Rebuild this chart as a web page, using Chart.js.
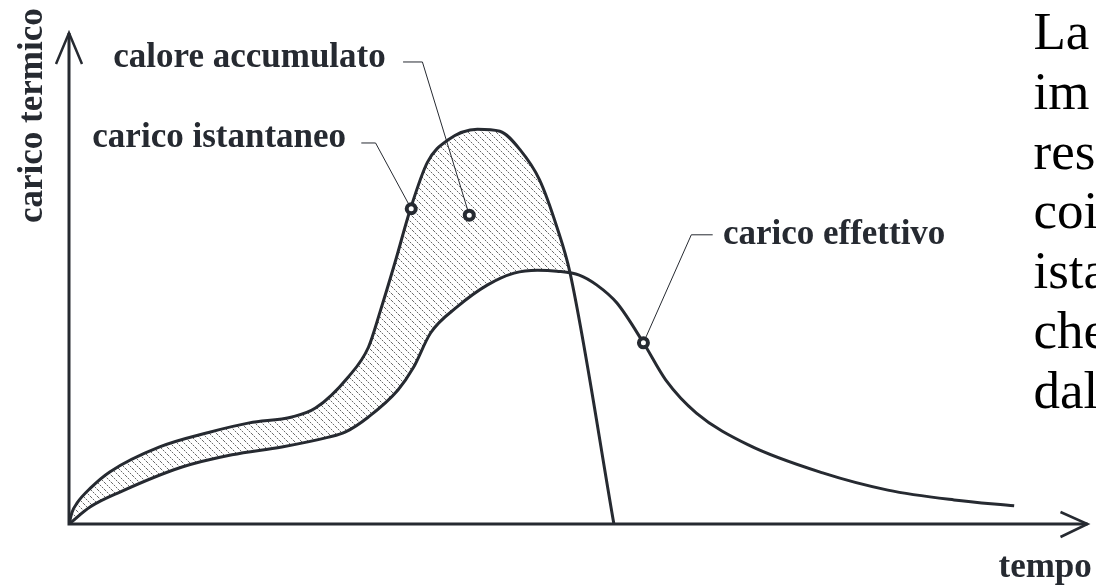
<!DOCTYPE html>
<html>
<head>
<meta charset="utf-8">
<script src="https://cdn.jsdelivr.net/npm/chart.js@4.4.1/dist/chart.umd.min.js"></script>
<style>
  body { margin: 0; background: #fff; }
</style>
</head>
<body>
<canvas id="caricoTermico" width="1096" height="585"></canvas>
<script>
// tempo and carico in % of the axis length (no ticks on the original)
var istTime = [0, 0.3, 0.8, 2.1, 4.0, 8.9, 13.8, 17.7, 21.9, 24.2, 27.4, 29.4, 30.6, 32.0, 33.5, 35.2, 37.2, 40.1, 42.3, 44.3, 46.2, 47.9, 49.2, 53.5];
var istLoad = [0, 2.4, 4.3, 7.3, 10.6, 15.7, 18.7, 20.6, 21.8, 23.6, 29.9, 36.0, 43.6, 53.2, 64.0, 73.7, 78.2, 80.4, 80.0, 76.2, 70.1, 60.5, 51.1, 0];

var effTime = [0, 2.1, 5.0, 11.1, 16.0, 20.9, 25.5, 27.1, 29.4, 32.3, 33.8, 35.5, 38.1, 41.1, 43.7, 46.0, 47.9, 50.1, 51.8, 53.8, 56.4, 58.6, 61.6, 66.7, 74.0, 80.4, 86.9, 92.8];
var effLoad = [0, 3.5, 6.5, 11.6, 14.1, 15.7, 17.7, 18.7, 21.8, 27.3, 31.8, 38.9, 44.2, 48.7, 51.1, 51.7, 51.5, 50.7, 48.7, 45.0, 36.9, 29.3, 22.6, 16.1, 10.4, 6.9, 4.9, 3.7];

var markerTime = [33.6, 39.3, 56.4];
var markerLoad = [64.2, 62.9, 36.9];

var labelText = ['calore accumulato', 'carico istantaneo', 'carico effettivo'];
var labelTime = [31.1, 27.2, 64.2];
var labelLoad = [93.1, 76.8, 57.0];
var labelAlign = ['right', 'right', 'left'];

// leader lines: from label to marker
var leaderTime = [[32.8, 34.7, 39.3], [28.7, 30.1, 33.6], [56.4, 61.1, 63.2]];
var leaderLoad = [[94.1, 94.1, 62.9], [77.6, 77.6, 64.2], [36.9, 58.9, 58.9]];

var xTitle = 'tempo';
var yTitle = 'carico termico';
var sideText = ['La', 'im', 'res', 'coi', 'ista', 'che', 'dal'];

var INK = '#262a31';
var BOLD = 'bold 35px "Liberation Serif", "Times New Roman", serif';

function toPoints(xs, ys) {
  return xs.map(function (x, i) { return { x: x, y: ys[i] }; });
}

function hatch() {
  var c = document.createElement('canvas');
  c.width = 7; c.height = 7;
  var g = c.getContext('2d');
  for (var i = 0; i < 7; i++) {
    g.fillStyle = i % 2 ? '#d4d4d4' : '#6a6a6a';
    g.fillRect(i, i, 1, 1);
  }
  return g.createPattern(c, 'repeat');
}

var datasets = [
  {
    label: 'carico istantaneo',
    data: toPoints(istTime, istLoad),
    borderColor: INK,
    borderWidth: 3,
    pointRadius: 0,
    cubicInterpolationMode: 'monotone',
    fill: { target: 1, above: hatch(), below: 'rgba(0,0,0,0)' },
    order: 2
  },
  {
    label: 'carico effettivo',
    data: toPoints(effTime, effLoad),
    borderColor: INK,
    borderWidth: 3,
    pointRadius: 0,
    cubicInterpolationMode: 'monotone',
    fill: false,
    order: 2
  }
];

leaderTime.forEach(function (xs, i) {
  datasets.push({
    label: 'leader ' + i,
    data: toPoints(xs, leaderLoad[i]),
    borderColor: INK,
    borderWidth: 1,
    pointRadius: 0,
    tension: 0,
    fill: false,
    order: 1
  });
});

datasets.push({
  label: 'markers',
  data: toPoints(markerTime, markerLoad),
  showLine: false,
  pointRadius: 4.5,
  pointBorderWidth: 4,
  pointBorderColor: INK,
  pointBackgroundColor: '#fff',
  order: 0
});

var extras = {
  id: 'extras',
  beforeDatasetsDraw: function (chart) {
    var ctx = chart.ctx;
    var a = chart.chartArea;
    var x0 = chart.scales.x.getPixelForValue(0);
    var y0 = chart.scales.y.getPixelForValue(0);
    ctx.save();
    ctx.strokeStyle = INK;
    ctx.lineWidth = 3;
    ctx.beginPath();
    ctx.moveTo(x0, a.top);
    ctx.lineTo(x0, y0);
    ctx.lineTo(a.right, y0);
    ctx.stroke();
    ctx.lineWidth = 2.5;
    ctx.beginPath();
    ctx.moveTo(x0 - 13, a.top + 31);
    ctx.lineTo(x0, a.top);
    ctx.lineTo(x0 + 13, a.top + 31);
    ctx.moveTo(a.right - 27, y0 - 12);
    ctx.lineTo(a.right, y0);
    ctx.lineTo(a.right - 27, y0 + 13);
    ctx.stroke();
    ctx.restore();
  },
  afterDatasetsDraw: function (chart) {
    var ctx = chart.ctx;
    var a = chart.chartArea;
    var sx = chart.scales.x, sy = chart.scales.y;
    ctx.save();
    ctx.fillStyle = INK;
    ctx.font = BOLD;
    ctx.textBaseline = 'alphabetic';
    labelText.forEach(function (t, i) {
      ctx.textAlign = labelAlign[i];
      ctx.fillText(t, sx.getPixelForValue(labelTime[i]), sy.getPixelForValue(labelLoad[i]));
    });

    ctx.textAlign = 'left';
    ctx.fillText(xTitle, a.right - 89, a.bottom + 53);

    ctx.save();
    ctx.translate(a.left - 27, a.bottom - 301);
    ctx.rotate(-Math.PI / 2);
    ctx.fillText(yTitle, 0, 0);
    ctx.restore();

    ctx.fillStyle = '#000';
    ctx.font = '53px "Liberation Serif", "Times New Roman", serif';
    sideText.forEach(function (t, i) {
      ctx.fillText(t, a.right - 54, a.top + 16 + i * 59.8);
    });
    ctx.restore();
  }
};

new Chart(document.getElementById('caricoTermico'), {
  type: 'line',
  data: { datasets: datasets },
  options: {
    responsive: false,
    animation: false,
    events: [],
    layout: { padding: { left: 69, top: 33, right: 2, bottom: 61 } },
    plugins: {
      legend: { display: false },
      tooltip: { enabled: false },
      filler: { drawTime: 'beforeDatasetsDraw' }
    },
    scales: {
      x: { type: 'linear', min: 0, max: 100, display: false },
      y: { type: 'linear', min: 0, max: 100, display: false }
    }
  },
  plugins: [extras]
});
</script>
</body>
</html>
